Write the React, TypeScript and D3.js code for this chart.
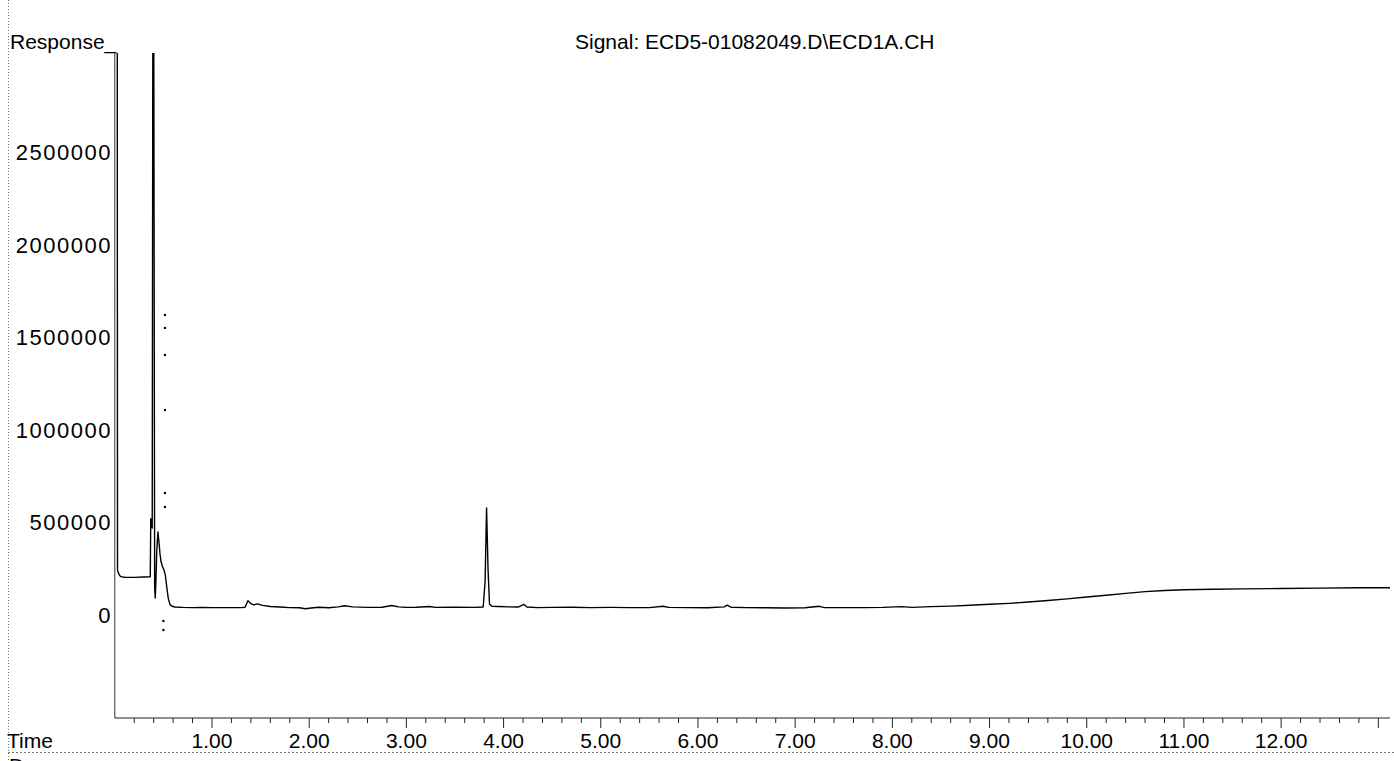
import React from "react";
import * as d3 from "d3";

// ---- data ----
const times: number[] = [
  0, 0.025, 0.028, 0.034, 0.045, 0.06, 0.1, 0.2, 0.3, 0.365,
  0.37, 0.378, 0.385, 0.392, 0.4, 0.41, 0.416, 0.424, 0.432, 0.444,
  0.455, 0.465, 0.475, 0.49, 0.506, 0.52, 0.535, 0.55, 0.568, 0.59,
  0.62, 0.7, 0.8, 0.9, 1.0, 1.1, 1.2, 1.3, 1.34, 1.37,
  1.4, 1.43, 1.47, 1.52, 1.6, 1.7, 1.8, 1.9, 1.96, 2.02,
  2.1, 2.2, 2.3, 2.36, 2.45, 2.6, 2.75, 2.85, 2.92, 3.0,
  3.1, 3.24, 3.3, 3.5, 3.7, 3.79, 3.81, 3.825, 3.84, 3.855,
  3.88, 3.95, 4.05, 4.15, 4.21, 4.24, 4.35, 4.5, 4.7, 4.9,
  5.1, 5.3, 5.5, 5.64, 5.7, 5.9, 6.1, 6.27, 6.3, 6.34,
  6.5, 6.7, 6.9, 7.1, 7.25, 7.3, 7.5, 7.7, 7.9, 8.1,
  8.2, 8.4, 8.6, 8.8, 9.0, 9.2, 9.4, 9.6, 9.8, 10.0,
  10.2, 10.4, 10.6, 10.8, 11.0, 11.3, 11.6, 12.0, 12.4, 12.8,
  13.12,
];
const responses: number[] = [
  3500000, 3500000, 240000, 232000, 218000, 207000, 204000, 203000, 205000, 206000,
  520000, 500000, 470000, 3500000, 3500000, 150000, 92000, 200000, 350000, 448000,
  390000, 330000, 290000, 262000, 243000, 215000, 150000, 90000, 56000, 47000,
  43000, 41000, 40000, 41000, 40000, 40000, 40000, 40000, 42000, 77000,
  62000, 55000, 60000, 52000, 46000, 43000, 40000, 39000, 34000, 38000,
  42000, 39000, 44000, 50000, 44000, 41000, 42000, 51000, 44000, 41000,
  42000, 46000, 41000, 42000, 41000, 43000, 180000, 578000, 250000, 60000,
  47000, 46000, 44000, 43000, 57000, 43000, 40000, 41000, 42000, 40000,
  41000, 40000, 40000, 47000, 41000, 40000, 39000, 44000, 53000, 42000,
  40000, 39000, 38000, 39000, 47000, 40000, 40000, 40000, 41000, 45000,
  41000, 45000, 48000, 53000, 58000, 63000, 70000, 78000, 87000, 97000,
  107000, 117000, 126000, 132000, 136000, 139000, 141000, 143000, 145000, 147000,
  147000,
];

// scattered marker dots seen on the print
const dotTimes: number[] = [0.516, 0.516, 0.516, 0.516, 0.516, 0.516, 0.5, 0.5];
const dotValues: number[] = [1620000, 1550000, 1404000, 1107000, 659000, 583000, -32000, -81000];

const yTickValues: number[] = [0, 500000, 1000000, 1500000, 2000000, 2500000];
const yTickLabels: string[] = ["0", "500000", "1000000", "1500000", "2000000", "2500000"];
const xMajorValues: number[] = [1, 2, 3, 4, 5, 6, 7, 8, 9, 10, 11, 12];
const xTickLabels: string[] = ["1.00", "2.00", "3.00", "4.00", "5.00", "6.00", "7.00", "8.00", "9.00", "10.00", "11.00", "12.00"];

const titleText = "Signal: ECD5-01082049.D\\ECD1A.CH";
const yAxisTitle = "Response_";
const xAxisTitle = "Time";

export default function App() {
  const W = 1394;
  const H = 761;
  const left = 114.8;
  const right = 1390;
  const top = 53;
  const bottom = 718;

  const x = d3.scaleLinear().domain([0, 13.12]).range([left, right]);
  const y = d3.scaleLinear().domain([-556000, 3034000]).range([bottom, top]);

  const pts = times.map((t, i) => [t, responses[i]] as [number, number]);
  const linePath = d3
    .line<[number, number]>()
    .x((d) => x(d[0]))
    .y((d) => y(d[1]))(pts) as string;

  const minorIdx = d3.range(1, 66);
  const font = "'Liberation Sans', Arial, sans-serif";

  return (
    <svg
      width={W}
      height={H}
      style={{ position: "absolute", left: 0, top: 0, background: "#fff" }}
      fontFamily={font}
    >
      <defs>
        <clipPath id="plotClip">
          <rect x={left} y={top} width={right - left} height={bottom - top} />
        </clipPath>
      </defs>
      <rect x={0} y={0} width={W} height={H} fill="#fff" />

      {/* page frame dotted lines */}
      <line x1={8.5} y1={0} x2={8.5} y2={H} stroke="#777" strokeWidth={1} strokeDasharray="1 2" />
      <line x1={8} y1={752.5} x2={W} y2={752.5} stroke="#777" strokeWidth={1} strokeDasharray="2 2" />

      {/* title */}
      <text x={575} y={49} fontSize={21} fill="#000">{titleText}</text>

      {/* y axis */}
      <text x={10} y={49} fontSize={21} fill="#000">{yAxisTitle}</text>
      <line x1={left} y1={top} x2={left} y2={bottom} stroke="#333" strokeWidth={1} />
      {yTickValues.map((v, i) => (
        <text
          key={"yl" + i}
          x={112}
          y={y(v) + 8}
          fontSize={22}
          letterSpacing={1.5}
          textAnchor="end"
          fill="#000"
        >
          {yTickLabels[i]}
        </text>
      ))}

      {/* x axis */}
      <line x1={left} y1={bottom} x2={right} y2={bottom} stroke="#222" strokeWidth={1.2} />
      {minorIdx.map((i) => {
        const t = i * 0.2;
        const major = i % 5 === 0;
        return (
          <line
            key={"xt" + i}
            x1={x(t)}
            x2={x(t)}
            y1={bottom}
            y2={bottom + (major ? 10 : 5)}
            stroke="#222"
            strokeWidth={1}
          />
        );
      })}
      {xMajorValues.map((v, i) => (
        <text key={"xl" + i} x={x(v)} y={748} fontSize={21} textAnchor="middle" fill="#000">
          {xTickLabels[i]}
        </text>
      ))}
      <text x={7} y={748} fontSize={21} fill="#000">{xAxisTitle}</text>
      <text x={9} y={773} fontSize={21} fill="#000">D</text>

      {/* signal trace */}
      <g clipPath="url(#plotClip)">
        <path d={linePath} fill="none" stroke="#000" strokeWidth={1.4} strokeLinejoin="round" />
      </g>

      {/* marker dots */}
      {dotTimes.map((t, i) => (
        <circle key={"d" + i} cx={x(t)} cy={y(dotValues[i])} r={1.2} fill="#000" />
      ))}
    </svg>
  );
}
